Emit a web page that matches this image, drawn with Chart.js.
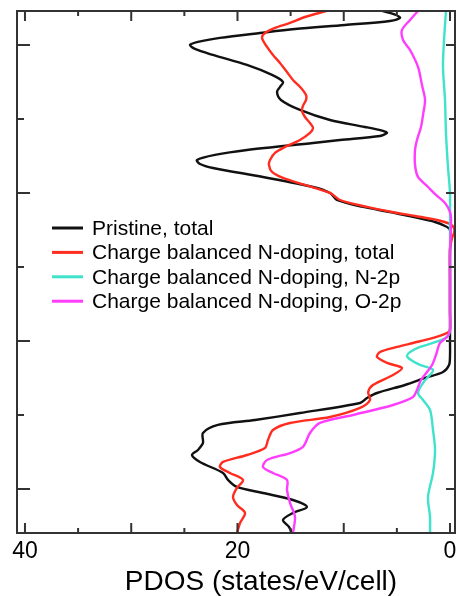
<!DOCTYPE html>
<html>
<head>
<meta charset="utf-8">
<script src="https://cdn.jsdelivr.net/npm/chart.js@4.4.0/dist/chart.umd.min.js"></script>
<style>
  html, body { margin: 0; padding: 0; background: #fff; }
  canvas { display: block; }
</style>
</head>
<body>
<canvas id="pdos" width="460" height="596"></canvas>
<script>
// Energy (eV, vertical) and PDOS (states/eV/cell, horizontal) for each curve
const pristineE = [4.46,4.405,4.365,4.324,4.27,4.216,4.162,4.095,4.041,4.0,3.946,3.865,3.73,3.595,3.5,3.432,3.365,3.257,3.122,2.986,2.892,2.838,2.811,2.77,2.716,2.676,2.581,2.514,2.446,2.392,2.338,2.216,2.081,2.0,1.905,1.811,1.743,1.676,1.608,1.554,1.5,1.2,0.8,0.4,0.0,-0.2,-0.324,-0.419,-0.5,-0.595,-0.703,-0.77,-0.838,-0.973,-1.068,-1.135,-1.243,-1.378,-1.473,-1.541,-1.635,-1.784,-1.878,-1.973,-2.054,-2.149,-2.243,-2.324,-2.419,-2.514,-2.595];
const pristineV = [6.40,5.08,4.71,5.65,9.88,14.59,17.88,21.65,23.72,24.47,24.0,22.31,19.11,16.75,15.72,16.0,16.28,15.91,14.12,11.29,8.0,6.31,5.93,6.59,10.35,12.89,19.11,22.12,23.81,23.53,22.31,17.6,12.89,11.29,10.64,8.19,5.65,3.48,1.41,0.47,0,0,0,0,0,0,0.09,0.66,2.35,4.24,6.87,7.81,8.47,14.12,18.35,21.84,23.25,23.25,23.72,24.28,23.53,21.36,20.89,20.05,17.6,14.78,13.46,14.78,15.72,15.15,14.87];

const nTotalE = [4.46,4.378,4.297,4.23,4.162,4.095,3.973,3.865,3.757,3.635,3.527,3.419,3.324,3.257,3.176,3.108,3.027,2.946,2.878,2.811,2.716,2.622,2.541,2.446,2.378,2.284,2.203,2.108,2.0,1.905,1.811,1.743,1.689,1.635,1.581,1.527,1.459,1.392,1.23,0.8,0.4,0.149,0.095,0.041,-0.027,-0.081,-0.149,-0.216,-0.297,-0.365,-0.459,-0.595,-0.689,-0.797,-0.905,-1.027,-1.108,-1.203,-1.338,-1.446,-1.541,-1.635,-1.703,-1.784,-1.878,-1.986,-2.108,-2.216,-2.324,-2.459,-2.595];
const nTotalV = [11.58,13.65,15.06,16.47,17.41,17.69,17.22,16.66,16.0,15.34,14.78,14.02,13.55,13.55,13.84,13.93,13.65,13.18,12.89,13.18,14.12,15.53,16.47,16.94,17.04,16.75,15.72,13.65,11.29,10.35,7.81,5.46,3.29,1.22,0,-0.38,-0.38,-0.19,0,0,0,0,0.47,1.6,3.48,4.99,6.59,6.87,5.93,4.52,5.36,7.25,7.7,7.53,8.47,11.29,15.06,16.66,17.13,17.41,19.11,21.36,21.65,20.71,19.48,20.05,20.42,20.05,19.29,19.76,20.05];

const n2pE = [4.46,4.068,3.703,3.257,2.811,2.351,2.0,1.7,1.2,0.8,0.4,0.149,0.054,-0.027,-0.081,-0.149,-0.203,-0.257,-0.324,-0.392,-0.486,-0.568,-0.703,-0.797,-0.932,-1.203,-1.473,-1.784,-2.108,-2.378,-2.595];
const n2pV = [0.38,0.56,0.66,0.47,0.38,0.19,0,0,0,0,0,0,0.28,1.6,2.82,3.76,4.05,3.67,2.82,1.6,2.07,2.54,3.01,2.54,1.88,1.6,1.41,1.6,2.07,1.88,1.88];

const o2pE = [4.46,4.338,4.203,4.068,3.932,3.703,3.459,3.257,3.054,2.892,2.716,2.581,2.378,2.216,2.081,1.973,1.865,1.743,1.635,1.2,0.8,0.4,0.149,0.054,-0.027,-0.189,-0.324,-0.419,-0.527,-0.662,-0.757,-0.865,-1.0,-1.108,-1.243,-1.432,-1.514,-1.608,-1.703,-1.784,-1.878,-2.014,-2.189,-2.378,-2.595];
const o2pV = [3.01,3.76,4.52,4.42,3.76,3.01,2.64,2.35,2.54,2.73,3.11,3.29,3.29,3.01,2.07,1.32,0.47,0,-0.1,0,0,0,0,0.28,0.94,1.32,1.69,2.16,2.73,3.11,3.48,5.36,9.13,12.24,13.18,13.84,15.06,17.22,17.6,16.66,15.34,15.34,15.06,14.59,14.78];

const seriesLabels = [
  'Pristine, total',
  'Charge balanced N-doping, total',
  'Charge balanced N-doping, N-2p',
  'Charge balanced N-doping, O-2p'
];
const seriesColors = ['#111111', '#ff2d1f', '#3fe3cc', '#ff3dff'];

// Axis ticks
const pdosTickValues = [0, 5, 10, 15, 20, 25, 30, 35, 40];
const pdosTickLabels = [0, 20, 40];
const energyTickValues = [-2, -1, 0, 1, 2, 3, 4];
const axisTitle = 'PDOS (states/eV/cell)';

const FONT = '"Liberation Sans", Arial, Helvetica, sans-serif';

const toPoints = (E, V) => E.map((e, i) => ({ x: V[i], y: e }));

const curves = [
  toPoints(pristineE, pristineV),
  toPoints(nTotalE, nTotalV),
  toPoints(n2pE, n2pV),
  toPoints(o2pE, o2pV)
];

// Draw order: O-2p on top, then N-2p, N total, pristine underneath
const drawOrder = [3, 2, 1, 0];

const datasets = curves.map((pts, i) => ({
  label: seriesLabels[i],
  data: pts,
  showLine: true,
  borderColor: seriesColors[i],
  backgroundColor: seriesColors[i],
  borderWidth: 2.4,
  pointRadius: 0,
  tension: 0.3,
  fill: false,
  order: drawOrder[i]
}));

// Frame with inward ticks on all four sides, legend block and axis title
const framePlugin = {
  id: 'frame',
  afterDatasetsDraw(chart) {
    const { ctx, chartArea: a, scales: { x, y } } = chart;
    ctx.save();
    ctx.strokeStyle = '#333';
    ctx.lineWidth = 2;
    ctx.strokeRect(a.left, a.top, a.right - a.left, a.bottom - a.top);
    ctx.beginPath();
    pdosTickValues.forEach(v => {
      const px = x.getPixelForValue(v);
      const major = v % 10 === 0;
      ctx.moveTo(px, a.bottom); ctx.lineTo(px, a.bottom - (major ? 10 : 5));
      ctx.moveTo(px, a.top); ctx.lineTo(px, a.top + (major ? 10 : 5));
    });
    energyTickValues.forEach(e => {
      const py = y.getPixelForValue(e);
      const major = e % 2 === 0;
      ctx.moveTo(a.left, py); ctx.lineTo(a.left + (major ? 13 : 7), py);
      ctx.moveTo(a.right, py); ctx.lineTo(a.right - (major ? 9 : 6), py);
    });
    ctx.stroke();

    // legend
    ctx.font = '21px ' + FONT;
    ctx.textBaseline = 'middle';
    ctx.textAlign = 'left';
    chart.data.datasets.forEach((ds, i) => {
      const ly = 228 + i * 24.4;
      ctx.strokeStyle = ds.borderColor;
      ctx.lineWidth = 3;
      ctx.beginPath();
      ctx.moveTo(52, ly);
      ctx.lineTo(83, ly);
      ctx.stroke();
      ctx.fillStyle = '#000';
      ctx.fillText(ds.label, 92, ly + 1);
    });

    // axis title
    ctx.font = '28px ' + FONT;
    ctx.textAlign = 'center';
    ctx.textBaseline = 'alphabetic';
    ctx.fillStyle = '#000';
    ctx.fillText(axisTitle, 261, 590);
    ctx.restore();
  }
};

new Chart(document.getElementById('pdos'), {
  type: 'scatter',
  data: { datasets },
  options: {
    responsive: false,
    devicePixelRatio: 1,
    animation: false,
    events: [],
    layout: { padding: { left: 17, top: 11, right: 5, bottom: 0 } },
    plugins: {
      legend: { display: false },
      tooltip: { enabled: false }
    },
    scales: {
      x: {
        type: 'linear',
        reverse: true,
        min: -0.47,
        max: 40.75,
        grid: { display: false },
        border: { display: false },
        afterFit: s => { s.height = 63; },
        ticks: {
          stepSize: 5,
          includeBounds: false,
          autoSkip: false,
          maxRotation: 0,
          padding: -3,
          color: '#000',
          font: { family: FONT, size: 23 },
          callback: v => (pdosTickLabels.includes(v) ? String(v) : '')
        }
      },
      y: {
        type: 'linear',
        display: false,
        min: -2.595,
        max: 4.459
      }
    }
  },
  plugins: [framePlugin]
});
</script>
</body>
</html>
